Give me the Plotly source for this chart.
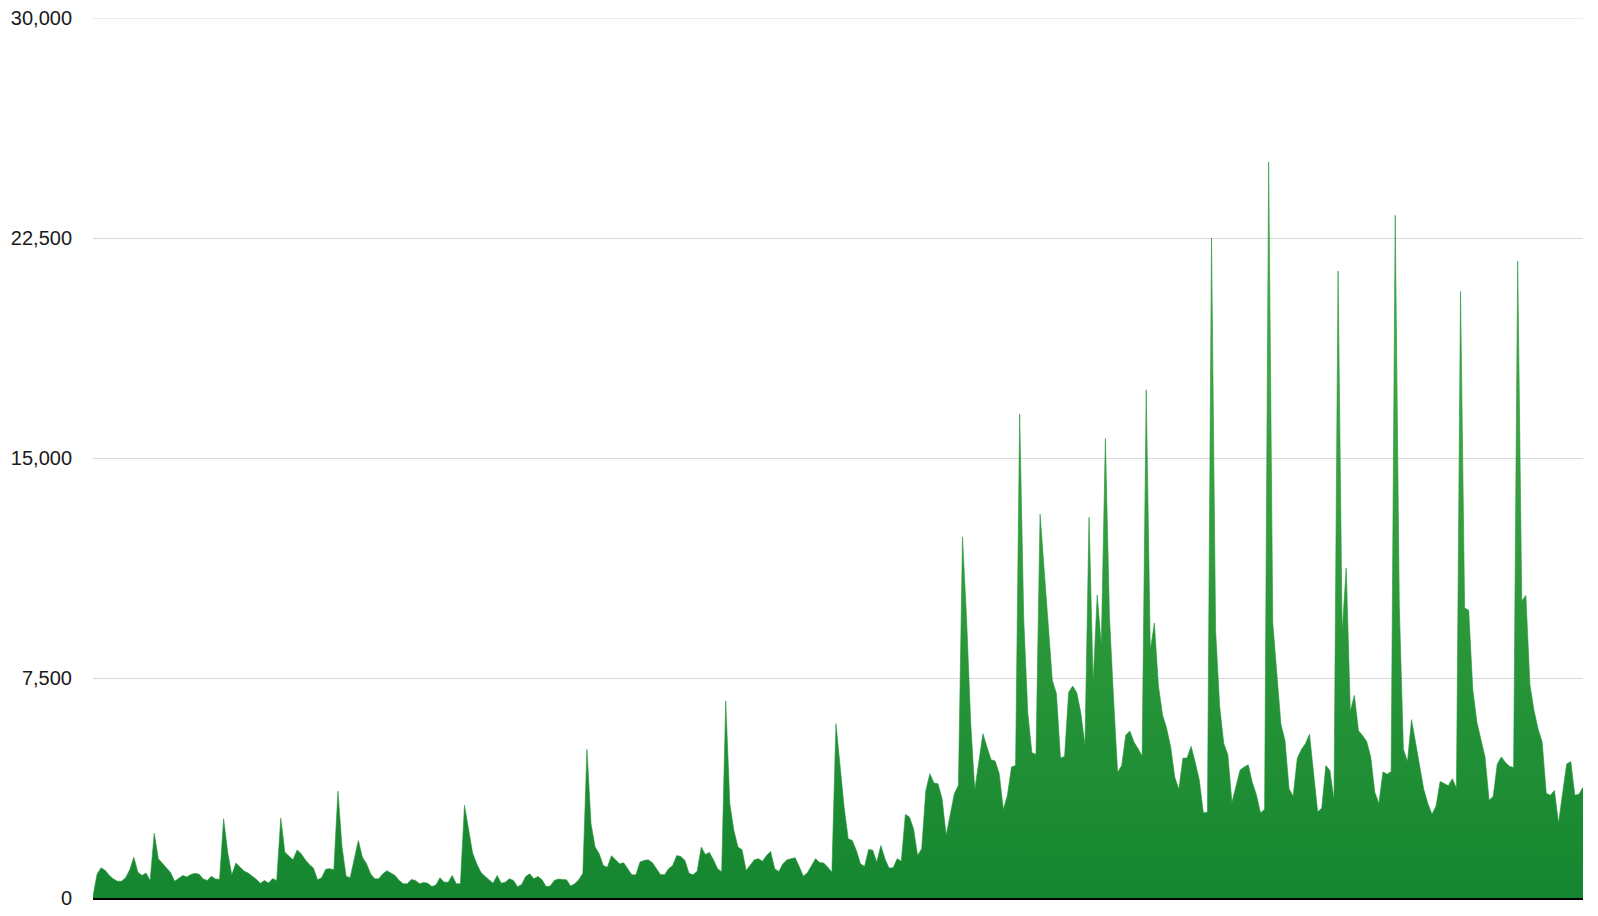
import plotly.graph_objects as go
import pandas as pd

# Daily values for one (leap) year
dates = pd.date_range("2016-01-01", periods=366, freq="D").strftime("%Y-%m-%d").tolist()

values_q1 = [
    60, 820, 1030, 940, 770, 650, 570, 570, 690, 960,
    1390, 880, 770, 850, 600, 2210, 1340, 1170, 1030, 870,
    570, 680, 770, 720, 800, 840, 810, 650, 600, 740,
    650, 640, 2700, 1560, 790, 1190, 1050, 920, 850, 760,
    640, 500, 600, 510, 660, 600, 2720, 1560, 1420, 1300,
    1640, 1510, 1300, 1140, 1020, 620, 690, 980, 1000, 960,
    3640, 1750, 745, 690, 1330, 1960, 1390, 1170, 825, 655,
    655, 825, 930, 860, 770, 600, 485, 485, 630, 600,
    485, 530, 505, 390, 440, 690, 540, 540, 770, 485,
    485,
]
values_q2 = [
    3160, 2400, 1530, 1170, 880, 745, 630, 505, 770,
    505, 540, 655, 600, 380, 460, 735, 825, 655, 735,
    620, 390, 405, 600, 645, 630, 620, 405, 485, 620,
    845, 5060, 2530, 1735, 1510, 1110, 1050, 1440, 1300, 1165,
    1200, 995, 790, 790, 1225, 1280, 1300, 1210, 995, 800,
    790, 995, 1110, 1445, 1415, 1280, 845, 790, 915, 1735,
    1485, 1550, 1300, 995, 895, 6720, 3210, 2300, 1735, 1645,
    940, 1110, 1300, 1340, 1255, 1450, 1585, 995, 905, 1165,
    1300, 1340, 1370, 1075, 745, 860, 1110, 1340, 1210, 1190,
    1050, 880,
]
values_q3 = [
    5940, 4460, 3100, 2020, 1960, 1620, 1165, 1075,
    1655, 1630, 1225, 1790, 1340, 1020, 1030, 1340, 1255, 2850,
    2760, 2360, 1450, 1680, 3645, 4240, 3920, 3895, 3385, 2135,
    2870, 3555, 3840, 12310, 9500, 6000, 3690, 4635, 5600, 5145,
    4715, 4670, 4235, 3020, 3500, 4465, 4520, 16500, 9500, 6300,
    4955, 4895, 13085, 11200, 9200, 7420, 6970, 4775, 4820, 7010,
    7225, 6995, 6300, 5205, 12980, 7340, 10330, 8605, 15665, 9585,
    6800, 4285, 4515, 5555, 5690, 5320, 5090, 4840, 17325, 8435,
    9375, 7225, 6245, 5785, 5150, 4115, 3710, 4770, 4770, 5170,
    4630, 4030,
]
values_q4 = [
    2905, 2925, 22500, 9125, 6530, 5265, 4885, 3260,
    3810, 4360, 4465, 4545, 3935, 3520, 2895, 3025, 25090, 9390,
    7655, 5920, 5370, 3720, 3470, 4760, 5060, 5255, 5585, 4265,
    2940, 3060, 4515, 4345, 3355, 21375, 9060, 11255, 6365, 6910,
    5705, 5540, 5340, 4810, 3605, 3225, 4300, 4215, 4315, 23275,
    9970, 5075, 4650, 6080, 5285, 4490, 3700, 3220, 2855, 3140,
    3970, 3905, 3825, 4065, 3745, 20680, 9885, 9810, 7110, 6000,
    5445, 4810, 3335, 3460, 4570, 4810, 4620, 4490, 4445, 21710,
    10125, 10315, 7270, 6395, 5760, 5315, 3570, 3505, 3665, 2555,
    3570, 4570, 4650, 3505, 3540, 3775,
]
values = values_q1 + values_q2 + values_q3 + values_q4
n = min(len(values), len(dates))
dates = dates[:n]
values = values[:n]

y_ticks = [0, 7500, 15000, 22500, 30000]
y_max = 30000

fig = go.Figure()
fig.add_trace(go.Scatter(
    x=list(range(n)),
    y=values,
    mode="lines",
    line=dict(width=0.6, color="#249438"),
    fill="tozeroy",
    fillgradient=dict(
        type="vertical",
        colorscale=[[0, "#158630"], [1, "#5cbf4f"]],
        start=0,
        stop=y_max,
    ),
    hovertext=dates,
    showlegend=False,
))

# top gridline (plotly omits the one at the range edge)
fig.add_shape(
    type="line", xref="paper", x0=0, x1=1, yref="y", y0=y_max, y1=y_max,
    line=dict(color="#d9d9d9", width=1), layer="below",
)

fig.update_layout(
    width=1598,
    height=916,
    margin=dict(l=93, r=15, t=18, b=18, autoexpand=False),
    paper_bgcolor="white",
    plot_bgcolor="white",
    font=dict(family="Liberation Sans, Arial, Helvetica, sans-serif", size=20, color="#1a1a1a"),
)
fig.update_xaxes(
    range=[0, n - 1],
    showgrid=False,
    zeroline=False,
    showticklabels=False,
    ticks="",
    showline=True,
    linecolor="#000000",
    linewidth=2,
    automargin=False,
)
fig.update_yaxes(
    range=[0, y_max],
    tickvals=y_ticks,
    tickformat=",",
    showgrid=True,
    gridcolor="#d9d9d9",
    gridwidth=1,
    zeroline=False,
    showline=False,
    ticks="",
    ticklabelstandoff=20,
    automargin=False,
)

fig.write_html(
    "out.html",
    config={"displayModeBar": False},
    post_script="document.body.style.margin='0';document.body.style.overflow='hidden';",
)
